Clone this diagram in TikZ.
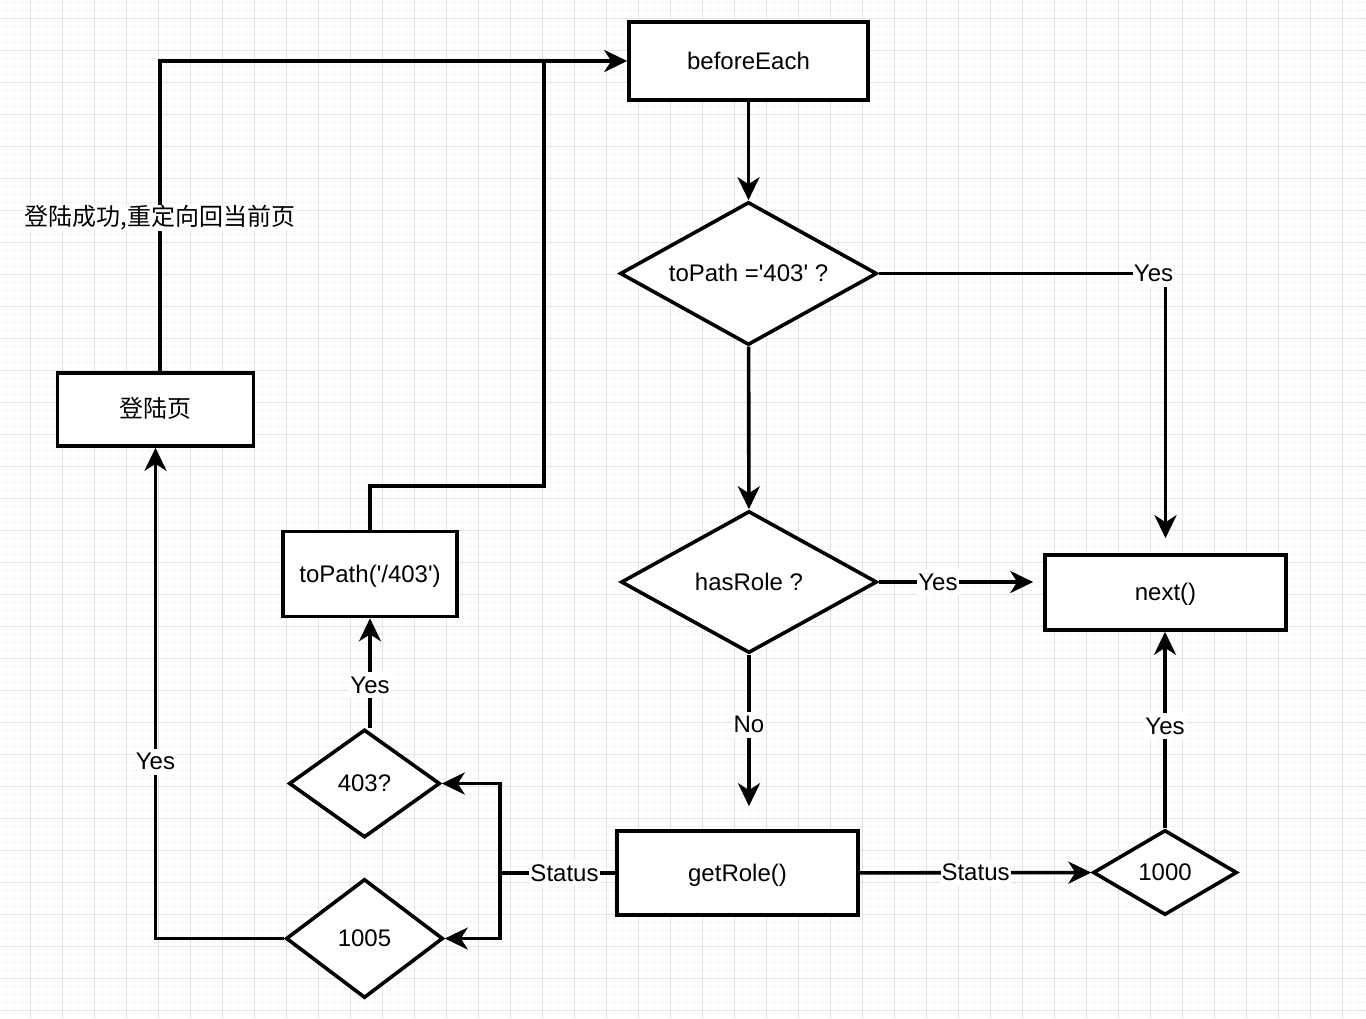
\documentclass[tikz,border=0pt]{standalone}
\usepackage{fontspec}
\newfontfamily\labfont{Liberation Sans}
\newfontfamily\cjk{Noto Sans CJK SC}
\usetikzlibrary{shapes.geometric,arrows.meta}

\begin{document}
\begin{tikzpicture}[
    x=1pt, y=-1pt,
    every node/.style={font=\labfont\fontsize{24}{28}\selectfont, text height=20pt, text depth=4pt},
    box/.style={draw, line width=3.6pt, fill=white, inner sep=0pt},
    decision/.style={draw, diamond, aspect=1.8, line width=3.6pt, fill=white, inner sep=0pt},
    line/.style={line width=3.6pt},
    arr/.style={line, -{Stealth[length=23pt, width=22pt, inset=7pt]}},
    lbl/.style={fill=white, inner sep=1pt},
    cjklbl/.style={lbl, font=\cjk\fontsize{24}{28}\selectfont},
    minor/.style={gray!8, line width=1pt},
    major/.style={gray!22, line width=1pt}
]
\useasboundingbox (0,0) rectangle (1366,1018);
\fill[white] (0,0) rectangle (1366,1018);
% grid
\foreach \x in {6.7,14.7,...,1366} \draw[minor] (\x,0) -- (\x,1018);
\foreach \y in {2.3,10.3,...,1018} \draw[minor] (0,\y) -- (1366,\y);
\foreach \x in {30.7,62.7,...,1366} \draw[major] (\x,0) -- (\x,1018);
\foreach \y in {18.3,50.3,...,1018} \draw[major] (0,\y) -- (1366,\y);

% nodes
\node[box, minimum width=239pt, minimum height=78pt] (before) at (748.5,61) {beforeEach};
\node[decision, minimum width=257pt, minimum height=143pt] (ispath) at (748.5,273.5) {toPath ='403' ?};
\node[decision, minimum width=256pt, minimum height=142pt] (hasrole) at (749,582) {hasRole ?};
\node[box, minimum width=241pt, minimum height=75pt] (next) at (1165.5,592.5) {next()};
\node[box, minimum width=241pt, minimum height=84pt] (getrole) at (737.5,873) {getRole()};
\node[decision, minimum width=144pt, minimum height=85pt] (ok) at (1165,872.5) {1000};
\node[decision, minimum width=151pt, minimum height=108pt] (forbid) at (364.5,783.5) {403?};
\node[decision, minimum width=157pt, minimum height=119pt] (expired) at (364.5,938.5) {1005};
\node[box, minimum width=174pt, minimum height=85pt] (topath) at (370,574) {toPath('/403')};
\node[box, minimum width=196pt, minimum height=73pt, font=\cjk\fontsize{24}{28}\selectfont] (login) at (155.5,409.5) {登陆页};

\coordinate (fork) at (500,873);
\coordinate (merge) at (544,61);

% connectors
\draw[arr] (before) -- (ispath);
\draw[arr, shorten >=15pt] (ispath.east) -- (ispath.east -| next) node[lbl, xshift=-12pt] (yes1) {Yes} -- (next.north);
\draw[arr] (ispath) -- (hasrole);
\draw[arr, shorten >=10pt] (hasrole.east) -- node[lbl, pos=0.36] (yes2) {Yes} (hasrole.east -| next.west);
\draw[arr, shorten >=23pt] (hasrole.south) -- node[lbl, pos=0.4] (no1) {No} (hasrole.south |- getrole.north);
\draw[line] (getrole.west) -- node[lbl, pos=0.44] (st1) {Status} (fork);
\draw[arr] (fork) |- (forbid.east);
\draw[arr] (fork) |- (expired.east);
\draw[arr] (getrole) -- node[lbl] (st2) {Status} (ok);
\draw[arr] (ok.north) -- node[lbl, pos=0.52] (yes3) {Yes} (ok.north |- next.south);
\draw[arr] (topath |- forbid.north) -- node[lbl, pos=0.39] (yes4) {Yes} (topath.south);
\draw[line] (topath.north) -- ++(0,-44) -| (merge);
\draw[arr] (expired.west) -| node[lbl, pos=0.68] (yes5) {Yes} (login.south);
\draw[arr] ([xshift=4.5pt]login.north) |- node[cjklbl, pos=0.247] (back) {登陆成功,重定向回当前页} (before.west);
\end{tikzpicture}
\end{document}
